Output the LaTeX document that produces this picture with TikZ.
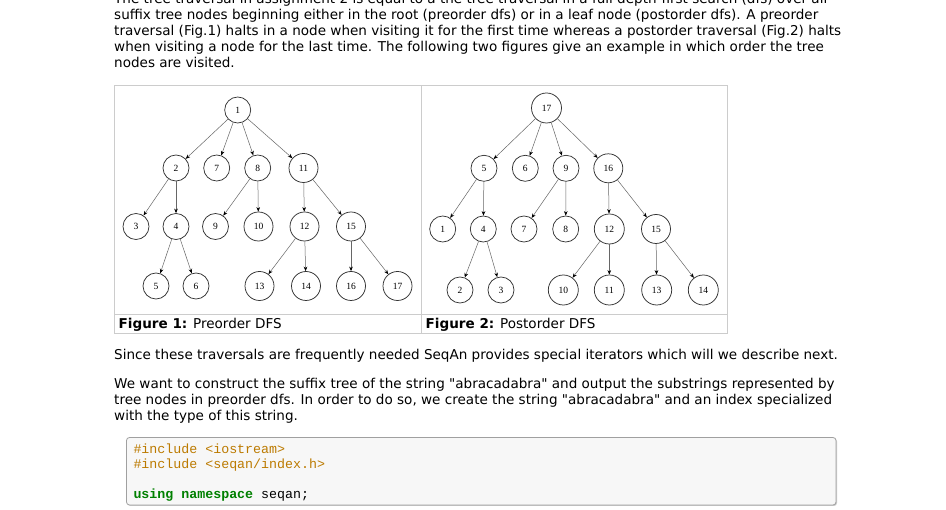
\documentclass[tikz,border=0pt]{standalone}
\usepackage{fontspec}
\setmainfont{DejaVu Sans}[Ligatures=TeXOff]
\newfontfamily\nodefont{Liberation Serif}
\newfontfamily\codefont{Liberation Mono}
\usetikzlibrary{arrows.meta}
\definecolor{preproc}{HTML}{BC7A00}
\definecolor{kwgreen}{HTML}{008000}
\definecolor{tblborder}{HTML}{CCCCCC}
\definecolor{codebg}{HTML}{F7F7F7}
\definecolor{codeborder}{HTML}{A0A0A0}
\begin{document}
\begin{tikzpicture}[x=1pt,y=-1pt,
  tn/.style={circle,draw=black!80,line width=0.75pt,inner sep=0pt,minimum size=26pt,font=\nodefont\fontsize{9.5}{10}\selectfont},
  tnw/.style={tn,minimum size=29pt},
  tnx/.style={tn,minimum size=30pt},
  edge/.style={draw=black!60,line width=0.5pt,-{Stealth[length=4.5pt,width=3.6pt,black]}},
  body/.style={anchor=base west,inner sep=0pt,font=\fontsize{13.55}{16}\selectfont},
  codeline/.style={anchor=base west,inner sep=0pt,font=\codefont\fontsize{13.3}{15}\selectfont},
  tbl/.style={draw=tblborder,line width=1pt},
]
\useasboundingbox (0,0) rectangle (946,510);
\clip (0,0) rectangle (946,510);
\fill[white] (0,0) rectangle (946,510);

% paragraph text
\node[body] (p1) at (114,3.5) {The tree traversal in assignment 2 is equal to a the tree traversal in a full depth-first search (dfs) over all};
\node[body] (p2) at (114,19.5) {suffix tree nodes beginning either in the root (preorder dfs) or in a leaf node (postorder dfs). A preorder};
\node[body] (p3) at (114,35.5) {traversal (Fig.1) halts in a node when visiting it for the first time whereas a postorder traversal (Fig.2) halts};
\node[body] (p4) at (114,51.5) {when visiting a node for the last time. The following two figures give an example in which order the tree};
\node[body] (p5) at (114,67.5) {nodes are visited.};

% table
\draw[tbl] (114.5,85.5) rectangle (727.5,334);
\draw[tbl] (114.5,315) -- (727.5,315);
\draw[tbl] (421.5,85.5) -- (421.5,334);
\node[body] (c1) at (118.5,328.5) {\textbf{Figure 1:} Preorder DFS};
\node[body] (c2) at (425.5,328.5) {\textbf{Figure 2:} Postorder DFS};

% figure 1
\node[tn] (a1) at (237.7,110) {1};
\node[tn] (a2) at (176,168) {2};
\node[tn] (a7) at (216.7,168) {7};
\node[tn] (a8) at (257.7,168) {8};
\node[tnw] (a11) at (303.5,168) {11};
\node[tn] (a3) at (136,226.5) {3};
\node[tn] (a4) at (176,226.5) {4};
\node[tn] (a9) at (215.5,226.5) {9};
\node[tnw] (a10) at (258.5,226.5) {10};
\node[tnw] (a12) at (304.5,226.5) {12};
\node[tnw] (a15) at (351,226.5) {15};
\node[tn] (a5) at (156,286) {5};
\node[tn] (a6) at (196,286) {6};
\node[tnw] (a13) at (259.5,286) {13};
\node[tnw] (a14) at (306,286) {14};
\node[tnw] (a16) at (351,286) {16};
\node[tnw] (a17) at (397.5,286) {17};
\foreach \p/\c in {a1/a2,a1/a7,a1/a8,a1/a11,a2/a3,a2/a4,a4/a5,a4/a6,a8/a9,a8/a10,a11/a12,a11/a15,a12/a13,a12/a14,a15/a16,a15/a17}
  \draw[edge] (\p) -- (\c);

% figure 2
\node[tnx] (b17) at (546.5,108) {17};
\node[tn] (b5) at (484,168.3) {5};
\node[tn] (b6) at (525.3,168.3) {6};
\node[tn] (b9) at (566,168.3) {9};
\node[tnw] (b16) at (608.3,168.3) {16};
\node[tn] (b1) at (442.7,229) {1};
\node[tn] (b4) at (483.3,229) {4};
\node[tn] (b7) at (524,229) {7};
\node[tn] (b8) at (565.7,229) {8};
\node[tnx] (b12) at (609.3,229) {12};
\node[tnw] (b15) at (656,229) {15};
\node[tn] (b2) at (460,290) {2};
\node[tn] (b3) at (501,290) {3};
\node[tnx] (b10) at (563.3,290) {10};
\node[tnx] (b11) at (609.3,290) {11};
\node[tnx] (b13) at (656.7,290) {13};
\node[tnx] (b14) at (703.3,290) {14};
\foreach \p/\c in {b17/b5,b17/b6,b17/b9,b17/b16,b5/b1,b5/b4,b4/b2,b4/b3,b9/b7,b9/b8,b16/b12,b16/b15,b12/b10,b12/b11,b15/b13,b15/b14}
  \draw[edge] (\p) -- (\c);

% following text
\node[body] (q1) at (114,359.5) {Since these traversals are frequently needed SeqAn provides special iterators which will we describe next.};
\node[body] (q2) at (114,388.5) {We want to construct the suffix tree of the string "abracadabra" and output the substrings represented by};
\node[body] (q3) at (114,404.5) {tree nodes in preorder dfs. In order to do so, we create the string "abracadabra" and an index specialized};
\node[body] (q4) at (114,420.5) {with the type of this string.};

% code box
\fill[black!20,rounded corners=3pt] (127.5,438.5) rectangle (837,506);
\draw[codeborder,fill=codebg,line width=0.8pt,rounded corners=3pt] (126.5,437.5) rectangle (836,505);
\node[codeline,text=preproc] (k1) at (133.3,453.5) {\#include <iostream>};
\node[codeline,text=preproc] (k2) at (133.3,468.5) {\#include <seqan/index.h>};
\node[codeline] (k3) at (133.3,498.5) {\textcolor{kwgreen}{\textbf{using}} \textcolor{kwgreen}{\textbf{namespace}} seqan;};
\end{tikzpicture}
\end{document}
